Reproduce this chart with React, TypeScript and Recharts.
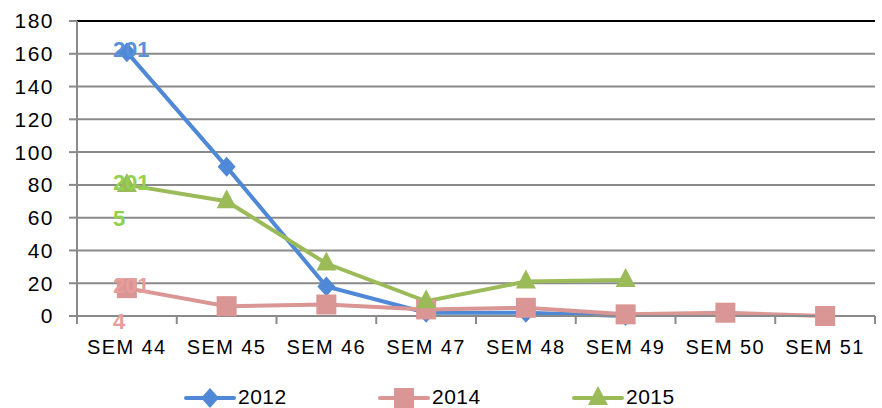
import { LineChart, Line, XAxis, YAxis, CartesianGrid, ReferenceLine } from "recharts";

const weeks = ["SEM 44", "SEM 45", "SEM 46", "SEM 47", "SEM 48", "SEM 49", "SEM 50", "SEM 51"];
const y2012 = [161, 91, 18, 2, 2, 0, null, null];
const y2014 = [17, 6, 7, 4, 5, 1, 2, 0];
const y2015 = [80, 70, 32, 9, 21, 22, null, null];
const yTicks = [0, 20, 40, 60, 80, 100, 120, 140, 160, 180];

const BLUE = "#4F88D6";
const PINK = "#D99694";
const GREEN = "#9BBB59";
const GRID = "#8a8a8a";
const FONT = "'Liberation Sans', Arial, sans-serif";

const data = weeks.map((w, i) => ({
  week: w,
  s2012: y2012[i],
  s2014: y2014[i],
  s2015: y2015[i],
}));

const HALF = 49.875;

function XTick(props: any) {
  const { x, y, payload, index } = props;
  return (
    <g>
      <line x1={x - HALF} y1={y} x2={x - HALF} y2={y + 8} stroke={GRID} strokeWidth={2} />
      {index === weeks.length - 1 && (
        <line x1={x + HALF} y1={y} x2={x + HALF} y2={y + 8} stroke={GRID} strokeWidth={2} />
      )}
      <text x={x} y={y + 38} textAnchor="middle" fontSize={20} fontFamily={FONT} fill="#000" letterSpacing={1.4}>
        {payload.value}
      </text>
    </g>
  );
}

const Diamond = ({ cx, cy, color }: any) =>
  cx == null || cy == null ? null : (
    <polygon points={`${cx},${cy - 10} ${cx + 9},${cy} ${cx},${cy + 10} ${cx - 9},${cy}`} fill={color} />
  );

const Square = ({ cx, cy, color }: any) =>
  cx == null || cy == null ? null : <rect x={cx - 10} y={cy - 10} width={20} height={20} fill={color} />;

const Triangle = ({ cx, cy, color }: any) =>
  cx == null || cy == null ? null : (
    <polygon points={`${cx},${cy - 12} ${cx + 10},${cy + 7} ${cx - 10},${cy + 7}`} fill={color} />
  );

function seriesLabel(line1: string, line2: string | null, color: string) {
  return (props: any) => {
    const { x, y, index } = props;
    if (index !== 0) return null;
    return (
      <g>
        <text x={x - 14} y={y - 3} dy="0.35em" fontSize={22} fontWeight="bold" fontFamily={FONT} fill={color}>
          {line1}
        </text>
        {line2 && (
          <text x={x - 14} y={y + 33} dy="0.35em" fontSize={22} fontWeight="bold" fontFamily={FONT} fill={color}>
            {line2}
          </text>
        )}
      </g>
    );
  };
}

function LegendItem({ left, color, label, shape }: any) {
  return (
    <div style={{ position: "absolute", left, top: 386, display: "flex", alignItems: "flex-start" }}>
      <svg width={52} height={24}>
        <line x1={2} y1={12} x2={50} y2={12} stroke={color} strokeWidth={4} strokeLinecap="round" />
        {shape === "diamond" && <Diamond cx={26} cy={12} color={color} />}
        {shape === "square" && <Square cx={26} cy={12} color={color} />}
        {shape === "triangle" && <Triangle cx={26} cy={12} color={color} />}
      </svg>
      <span style={{ fontFamily: FONT, fontSize: 21, marginLeft: 2, lineHeight: "22px", color: "#000", letterSpacing: 0.5 }}>
        {label}
      </span>
    </div>
  );
}

export default function App() {
  return (
    <div style={{ position: "absolute", left: 0, top: 0, width: 882, height: 408, background: "#fff", overflow: "hidden" }}>
      <LineChart width={882} height={408} data={data} margin={{ top: 21, right: 7, left: 0, bottom: 0 }}>
        <CartesianGrid vertical={false} stroke={GRID} strokeWidth={2} />
        <ReferenceLine y={180} stroke="#000" strokeWidth={2} />
        <XAxis
          dataKey="week"
          height={92}
          padding={{ left: HALF, right: HALF }}
          tickLine={false}
          tickSize={0}
          tickMargin={0}
          axisLine={{ stroke: GRID, strokeWidth: 2 }}
          tick={<XTick />}
          interval={0}
        />
        <YAxis
          width={77}
          domain={[0, 180]}
          ticks={yTicks}
          tickSize={8}
          tickMargin={15}
          axisLine={{ stroke: GRID, strokeWidth: 2 }}
          tickLine={{ stroke: GRID, strokeWidth: 2 }}
          tick={{ fontSize: 21, fontFamily: FONT, fill: "#000", letterSpacing: 1.5 }}
        />
        <YAxis yAxisId="r" orientation="right" width={0} tick={false} tickLine={false} axisLine={{ stroke: "#000", strokeWidth: 2 }} />
        <Line
          dataKey="s2012"
          stroke={BLUE}
          strokeWidth={4}
          dot={<Diamond color={BLUE} />}
          activeDot={false}
          isAnimationActive={false}
          label={seriesLabel("201", null, "#5A90DA")}
        />
        <Line
          dataKey="s2014"
          stroke={PINK}
          strokeWidth={4}
          dot={<Square color={PINK} />}
          activeDot={false}
          isAnimationActive={false}
          label={seriesLabel("201", "4", "#E59E9C")}
        />
        <Line
          dataKey="s2015"
          stroke={GREEN}
          strokeWidth={4}
          dot={<Triangle color={GREEN} />}
          activeDot={false}
          isAnimationActive={false}
          label={seriesLabel("201", "5", "#92D050")}
        />
      </LineChart>
      <LegendItem left={184} color={BLUE} label="2012" shape="diamond" />
      <LegendItem left={378} color={PINK} label="2014" shape="square" />
      <LegendItem left={572} color={GREEN} label="2015" shape="triangle" />
    </div>
  );
}
